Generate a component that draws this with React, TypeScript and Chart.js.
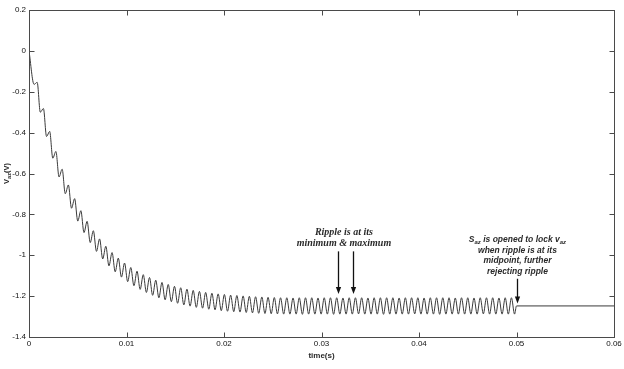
import React, { useEffect, useRef } from 'react';
import { Chart, registerables } from 'chart.js';

Chart.register(...registerables);

// ---------- data ----------
const xTickValues = [0, 0.01, 0.02, 0.03, 0.04, 0.05, 0.06];
const xTickLabels = ['0', '0.01', '0.02', '0.03', '0.04', '0.05', '0.06'];
const yTickValues = [-1.4, -1.2, -1, -0.8, -0.6, -0.4, -0.2, 0, 0.2];
const yTickLabels = ['-1.4', '-1.2', '-1', '-0.8', '-0.6', '-0.4', '-0.2', '0', '0.2'];

const startTime = 0;
const startValue = 0;
// ripple extrema (alternating minimum / maximum), one every half ripple period
const firstExtremumTime = 0.00052;
const halfPeriod = 0.00032;
const rippleExtrema = [
  -0.164, -0.154, -0.300, -0.282, -0.419, -0.394, -0.525, -0.492, -0.617, -0.579,
  -0.699, -0.656, -0.770, -0.723, -0.833, -0.782, -0.889, -0.834, -0.938, -0.880,
  -0.981, -0.920, -1.018, -0.956, -1.052, -0.987, -1.081, -1.014, -1.107, -1.038,
  -1.129, -1.060, -1.149, -1.078, -1.167, -1.095, -1.182, -1.109, -1.196, -1.122,
  -1.208, -1.133, -1.218, -1.143, -1.227, -1.152, -1.235, -1.159, -1.243, -1.166,
  -1.249, -1.172, -1.255, -1.177, -1.259, -1.182, -1.264, -1.186, -1.267, -1.189,
  -1.271, -1.192, -1.274, -1.195, -1.276, -1.197, -1.278, -1.199, -1.280, -1.201,
  -1.282, -1.203, -1.284, -1.204, -1.285, -1.206, -1.286, -1.207, -1.287, -1.208,
  -1.288, -1.208, -1.288, -1.209, -1.288, -1.208, -1.289, -1.208, -1.288, -1.208,
  -1.288, -1.209, -1.288, -1.208, -1.288, -1.208, -1.289, -1.208, -1.288, -1.209,
  -1.288, -1.208, -1.288, -1.208, -1.287, -1.208, -1.288, -1.209, -1.288, -1.208,
  -1.288, -1.208, -1.289, -1.208, -1.288, -1.208, -1.288, -1.209, -1.288, -1.208,
  -1.288, -1.208, -1.287, -1.208, -1.288, -1.209, -1.288, -1.208, -1.288, -1.208,
  -1.289, -1.208, -1.288, -1.208, -1.288, -1.209, -1.288, -1.208, -1.288, -1.208,
  -1.288, -1.209, -1.288, -1.208, -1.287, -1.208, -1.288, -1.208, -1.288, -1.209,
  -1.288, -1.208, -1.288, -1.208, -1.288,
];
const lockTime = 0.05;
const lockedValue = -1.248;
const endTime = 0.06;

// ---------- annotations (anchored in data units) ----------
type Seg = { t: string; sub?: boolean };
const noteRipple = {
  x: 0.0323,
  y: -0.89,
  lines: [[{ t: 'Ripple is at its' }], [{ t: 'minimum & maximum' }]] as Seg[][],
  arrowsX: [0.0317, 0.0332],
  arrowFrom: -0.981,
  arrowTo: -1.19,
};
const noteLock = {
  x: 0.0501,
  y: -0.926,
  lines: [
    [{ t: 'S' }, { t: 'az', sub: true }, { t: ' is opened to lock ' }, { t: 'v' }, { t: 'az', sub: true }],
    [{ t: 'when ripple is at its' }],
    [{ t: 'midpoint, further' }],
    [{ t: 'rejecting ripple' }],
  ] as Seg[][],
  arrowsX: [0.0501],
  arrowFrom: -1.115,
  arrowTo: -1.236,
};

const INK = '#2a2a2a';
const FRAME = '#4a4a4a';

function drawRich(ctx: CanvasRenderingContext2D, segs: Seg[], cx: number, cy: number, font: string, subFont: string, subShift: number) {
  let total = 0;
  const widths = segs.map((s) => {
    ctx.font = s.sub ? subFont : font;
    const w = ctx.measureText(s.t).width;
    total += w;
    return w;
  });
  let x = cx - total / 2;
  segs.forEach((s, i) => {
    ctx.font = s.sub ? subFont : font;
    ctx.fillText(s.t, x, s.sub ? cy + subShift : cy);
    x += widths[i];
  });
}

const decorPlugin = {
  id: 'decor',
  afterDraw(chart: any) {
    const { ctx, chartArea: a, scales } = chart;
    const xs = scales.x;
    const ys = scales.y;
    ctx.save();
    // frame
    ctx.strokeStyle = FRAME;
    ctx.lineWidth = 1;
    const L = Math.round(a.left) + 0.5;
    const T = Math.round(a.top) + 0.5;
    const R = Math.round(a.right) + 0.5;
    const B = Math.round(a.bottom) + 0.5;
    ctx.strokeRect(L, T, R - L, B - T);
    // inward ticks on all sides
    const tl = 5;
    ctx.beginPath();
    xTickValues.forEach((v) => {
      const px = Math.round(xs.getPixelForValue(v)) + 0.5;
      ctx.moveTo(px, B);
      ctx.lineTo(px, B - tl);
      ctx.moveTo(px, T);
      ctx.lineTo(px, T + tl);
    });
    yTickValues.forEach((v) => {
      const py = Math.round(ys.getPixelForValue(v)) + 0.5;
      ctx.moveTo(L, py);
      ctx.lineTo(L + tl, py);
      ctx.moveTo(R, py);
      ctx.lineTo(R - tl, py);
    });
    ctx.stroke();

    // axis titles
    ctx.fillStyle = INK;
    ctx.textBaseline = 'middle';
    ctx.textAlign = 'left';
    drawRich(ctx, [{ t: 'time(s)' }], (a.left + a.right) / 2, 356, 'bold 8px "Liberation Sans", Arial, sans-serif', 'bold 6px "Liberation Sans"', 2);
    ctx.save();
    ctx.translate(7, (a.top + a.bottom) / 2);
    ctx.rotate(-Math.PI / 2);
    drawRich(ctx, [{ t: 'V' }, { t: 'az', sub: true }, { t: '(V)' }], 0, 0, 'bold 7.5px "Liberation Sans", Arial, sans-serif', 'bold 5.5px "Liberation Sans", Arial, sans-serif', 2);
    ctx.restore();

    // annotations
    const drawNote = (n: any, font: string, subFont: string, lh: number) => {
      const cx = xs.getPixelForValue(n.x);
      const cy = ys.getPixelForValue(n.y);
      n.lines.forEach((segs: Seg[], i: number) => {
        drawRich(ctx, segs, cx, cy + i * lh, font, subFont, 2.5);
      });
      ctx.strokeStyle = '#111';
      ctx.fillStyle = '#111';
      ctx.lineWidth = 1.3;
      n.arrowsX.forEach((ax: number) => {
        const px = Math.round(xs.getPixelForValue(ax)) + 0.5;
        const y0 = ys.getPixelForValue(n.arrowFrom);
        const y1 = ys.getPixelForValue(n.arrowTo);
        const head = 7;
        ctx.beginPath();
        ctx.moveTo(px, y0);
        ctx.lineTo(px, y1 - head + 1);
        ctx.stroke();
        ctx.beginPath();
        ctx.moveTo(px - 2.6, y1 - head);
        ctx.lineTo(px + 2.6, y1 - head);
        ctx.lineTo(px, y1);
        ctx.closePath();
        ctx.fill();
      });
      ctx.fillStyle = INK;
    };
    drawNote(noteRipple, 'italic bold 10px "Liberation Serif", "DejaVu Serif", serif', 'italic bold 7px "Liberation Serif", serif', 10.7);
    drawNote(noteLock, 'italic bold 8.5px "Liberation Sans", Arial, sans-serif', 'italic bold 6px "Liberation Sans", Arial, sans-serif', 10.5);
    ctx.restore();
  },
};

export default function App() {
  const canvasRef = useRef<HTMLCanvasElement | null>(null);

  useEffect(() => {
    document.body.style.margin = '0';
    const canvas = canvasRef.current;
    if (!canvas) return;

    const points = [
      { x: startTime, y: startValue },
      ...rippleExtrema.map((v, i) => ({ x: firstExtremumTime + i * halfPeriod, y: v })),
      { x: lockTime, y: lockedValue },
      { x: endTime, y: lockedValue },
    ];

    const tickFont = { family: '"Liberation Sans", Arial, sans-serif', size: 8 };

    const chart = new Chart(canvas, {
      type: 'line',
      data: {
        datasets: [
          {
            data: points,
            borderColor: '#3a3a3a',
            borderWidth: 1,
            pointRadius: 0,
            cubicInterpolationMode: 'monotone',
            fill: false,
          },
        ],
      },
      plugins: [decorPlugin],
      options: {
        animation: false,
        responsive: false,
        devicePixelRatio: 1,
        parsing: true,
        layout: { padding: { top: 10, right: 10, left: 0, bottom: 0 } },
        plugins: { legend: { display: false }, tooltip: { enabled: false } },
        scales: {
          x: {
            type: 'linear',
            min: 0,
            max: 0.06,
            grid: { display: false, drawTicks: false },
            border: { display: false },
            afterBuildTicks: (s: any) => {
              s.ticks = xTickValues.map((v) => ({ value: v }));
            },
            afterFit: (s: any) => {
              s.height = 32;
            },
            ticks: {
              autoSkip: false,
              maxRotation: 0,
              padding: 2,
              color: '#111',
              font: tickFont,
              callback: (_v: any, i: number) => xTickLabels[i],
            },
          },
          y: {
            type: 'linear',
            min: -1.4,
            max: 0.2,
            grid: { display: false, drawTicks: false },
            border: { display: false },
            afterBuildTicks: (s: any) => {
              s.ticks = yTickValues.map((v) => ({ value: v }));
            },
            afterFit: (s: any) => {
              s.width = 29;
            },
            ticks: {
              autoSkip: false,
              padding: 3,
              color: '#111',
              font: tickFont,
              callback: (_v: any, i: number) => yTickLabels[i],
            },
          },
        },
      } as any,
    });

    return () => chart.destroy();
  }, []);

  return (
    <div style={{ width: 624, height: 369, background: '#fff' }}>
      <canvas ref={canvasRef} width={624} height={369} style={{ display: 'block' }} />
    </div>
  );
}
